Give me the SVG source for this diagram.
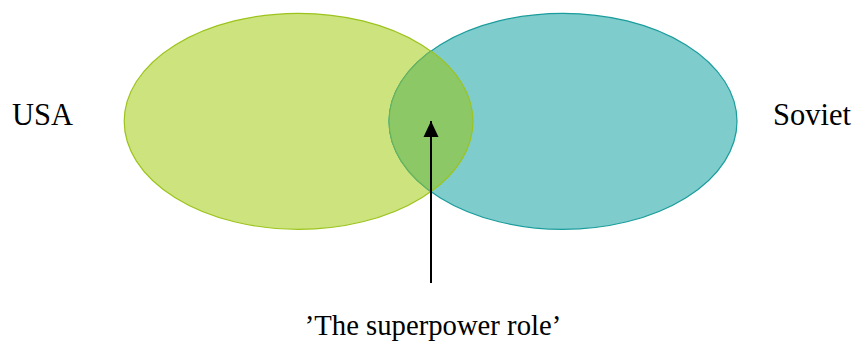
<svg xmlns="http://www.w3.org/2000/svg" width="857" height="348" viewBox="0 0 857 348">
<style>
.lbl{font-family:"Liberation Serif","Times New Roman",serif;fill:#000;}
</style>
<defs>
<marker id="ah" markerWidth="16" markerHeight="16" refX="16" refY="8" orient="auto" markerUnits="userSpaceOnUse" viewBox="0 0 16 16">
<path d="M0,0.5 L16,8 L0,15.5 Z" fill="#000"/>
</marker>
<clipPath id="leftClip"><ellipse cx="298.5" cy="121.3" rx="174.3" ry="108"/></clipPath>
</defs>
<rect width="857" height="348" fill="#fff"/>
<g id="usa-set">
<ellipse cx="298.5" cy="121.3" rx="174.3" ry="108" fill="#cde47e" stroke="#9cc31c" stroke-width="1.2"/>
</g>
<g id="soviet-set">
<ellipse cx="563" cy="121.3" rx="174" ry="108" fill="#7fcccc" stroke="#1b9c9c" stroke-width="1.2"/>
</g>
<g id="overlap">
<ellipse cx="563" cy="121.3" rx="174" ry="108" fill="#8cc966" stroke="#6ab45a" stroke-width="1.2" clip-path="url(#leftClip)"/>
<path d="M430.7,50.8 A174.3,108 0 0 1 430.7,191.8" fill="none" stroke="#9cc31c" stroke-width="1.2"/>
</g>
<g id="connectors">
<line x1="431" y1="283" x2="431" y2="121" stroke="#000" stroke-width="2" marker-end="url(#ah)"/>
</g>
<g id="label-usa"><text class="lbl" x="12" y="125" font-size="30.5" font-family="Liberation Serif, serif">USA</text></g>
<g id="label-soviet"><text class="lbl" x="773" y="125" font-size="30.5" font-family="Liberation Serif, serif">Soviet</text></g>
<g id="label-role"><text class="lbl" x="433" y="335" font-size="28.7" text-anchor="middle" font-family="Liberation Serif, serif">’The superpower role’</text></g>
</svg>
